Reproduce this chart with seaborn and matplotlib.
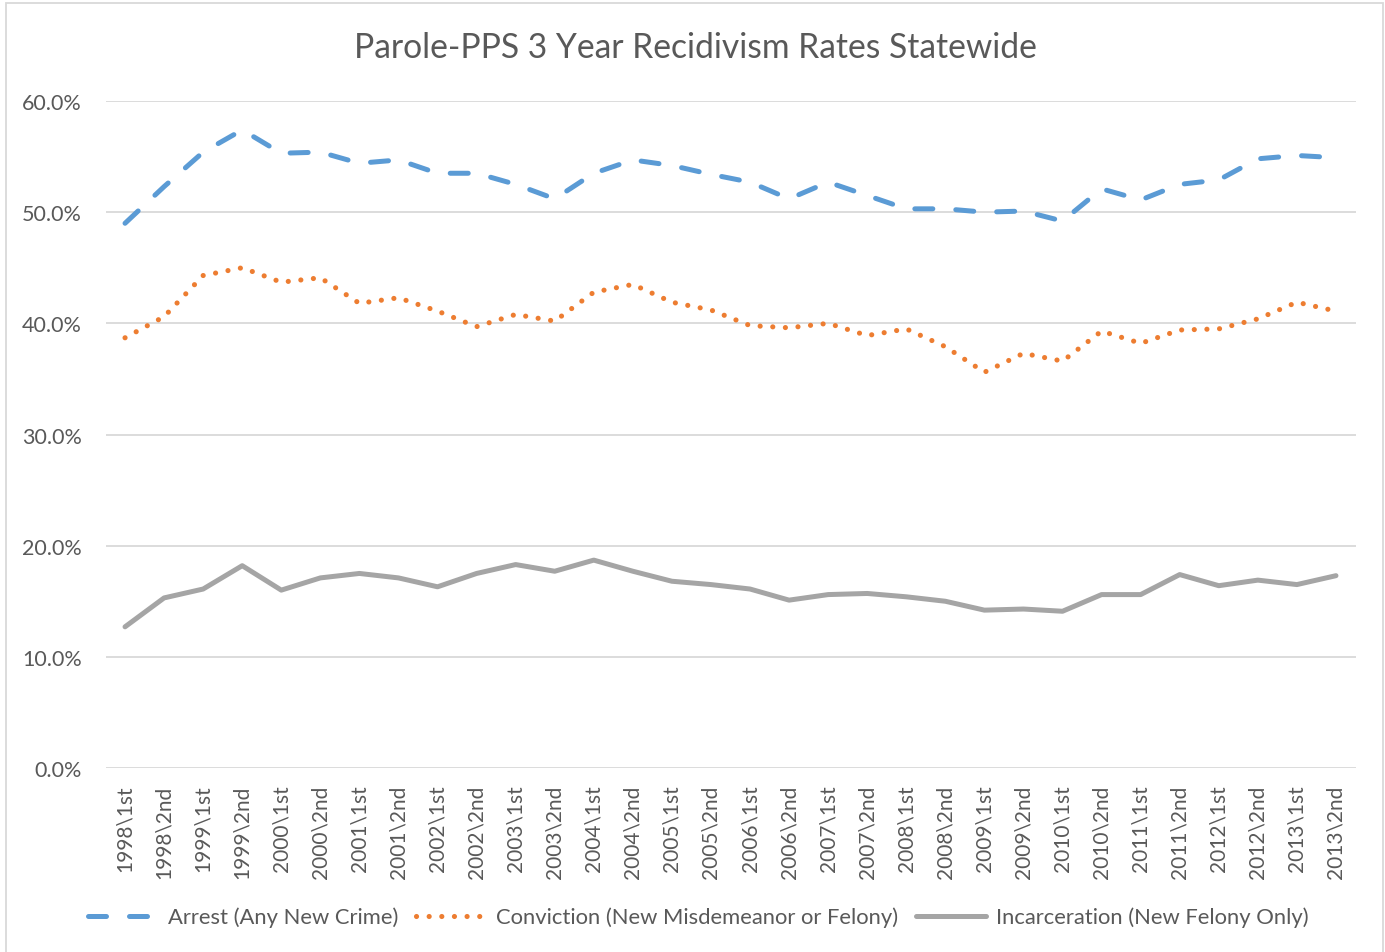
import pandas as pd
import numpy as np
import matplotlib
matplotlib.use('Agg')
import matplotlib.pyplot as plt
import seaborn as sns
from matplotlib.patches import Rectangle
from matplotlib.ticker import PercentFormatter

periods = ['1998\\1st', '1998\\2nd', '1999\\1st', '1999\\2nd', '2000\\1st', '2000\\2nd',
           '2001\\1st', '2001\\2nd', '2002\\1st', '2002\\2nd', '2003\\1st', '2003\\2nd',
           '2004\\1st', '2004\\2nd', '2005\\1st', '2005\\2nd', '2006\\1st', '2006\\2nd',
           '2007\\1st', '2007\\2nd', '2008\\1st', '2008\\2nd', '2009\\1st', '2009\\2nd',
           '2010\\1st', '2010\\2nd', '2011\\1st', '2011\\2nd', '2012\\1st', '2012\\2nd',
           '2013\\1st', '2013\\2nd']

arrest = [49.0, 52.3, 55.4, 57.4, 55.3, 55.4, 54.4, 54.7, 53.5, 53.5, 52.5, 51.2,
          53.5, 54.7, 54.2, 53.4, 52.7, 51.2, 52.7, 51.5, 50.3, 50.3, 50.0, 50.1,
          49.2, 52.1, 51.1, 52.5, 52.9, 54.8, 55.1, 54.9]

conviction = [38.7, 40.6, 44.3, 45.0, 43.7, 44.1, 41.8, 42.3, 41.1, 39.7, 40.8, 40.2,
              42.8, 43.5, 41.9, 41.2, 39.8, 39.6, 40.0, 38.9, 39.5, 37.9, 35.6, 37.3,
              36.6, 39.3, 38.2, 39.4, 39.5, 40.4, 41.9, 41.1]

incarceration = [12.7, 15.3, 16.1, 18.2, 16.0, 17.1, 17.5, 17.1, 16.3, 17.5, 18.3, 17.7,
                 18.7, 17.7, 16.8, 16.5, 16.1, 15.1, 15.6, 15.7, 15.4, 15.0, 14.2, 14.3,
                 14.1, 15.6, 15.6, 17.4, 16.4, 16.9, 16.5, 17.3]

series_names = ['Arrest (Any New Crime)',
                'Conviction (New Misdemeanor or Felony)',
                'Incarceration (New Felony Only)']

# Собираем длинную таблицу для seaborn
df = pd.DataFrame({'period': periods, series_names[0]: arrest,
                   series_names[1]: conviction, series_names[2]: incarceration})
long_df = df.melt(id_vars='period', var_name='series', value_name='rate')
long_df['x'] = long_df['period'].map({p: i for i, p in enumerate(periods)})

sns.set_style('white')
plt.rcParams['font.family'] = ['Lato', 'DejaVu Sans']
text_color = '#595959'

fig = plt.figure(figsize=(13.85, 9.53), dpi=100)
ax = fig.add_axes([105.5 / 1385, 184 / 953, 1250 / 1385, 667 / 953])

palette = {series_names[0]: '#5B9BD5', series_names[1]: '#ED7D31', series_names[2]: '#A5A5A5'}
dashes = {series_names[0]: (3.6, 4.6), series_names[1]: (0.01, 2.45), series_names[2]: ''}

sns.lineplot(data=long_df, x='x', y='rate', hue='series', style='series',
             palette=palette, dashes=dashes, hue_order=series_names, style_order=series_names,
             linewidth=3.6, legend=False, ax=ax)

for line in ax.lines:
    line.set_dash_capstyle('round')
    line.set_solid_capstyle('round')
    line.set_solid_joinstyle('round')
ax.lines[1].set_linewidth(3.7)

# Оси и сетка в стиле Excel
ax.set_xlim(-0.5, len(periods) - 0.5)
ax.set_ylim(0, 60)
ax.set_yticks(np.arange(0, 61, 10))
ax.yaxis.set_major_formatter(PercentFormatter(decimals=1))
ax.set_xticks(range(len(periods)))
ax.set_xticklabels(periods, rotation=90)
ax.grid(axis='y', color='#D9D9D9', linewidth=1.3)
ax.set_axisbelow(True)
for side in ['top', 'right', 'left', 'bottom']:
    ax.spines[side].set_visible(False)
ax.tick_params(axis='y', length=0, pad=17, labelsize=15.5, labelcolor=text_color)
ax.tick_params(axis='x', length=0, pad=12, labelsize=15, labelcolor=text_color)
ax.set_xlabel('')
ax.set_ylabel('')

fig.text(695.5 / 1385, 1 - 48 / 953, 'Parole-PPS 3 Year Recidivism Rates Statewide',
         ha='center', va='center', fontsize=24.2, color=text_color)

leg = fig.legend(handles=ax.lines[:3], labels=series_names, loc='center',
                 bbox_to_anchor=(698 / 1385, 1 - 918 / 953), ncol=3, frameon=False,
                 fontsize=15.8, handlelength=3.2, handletextpad=0.45, columnspacing=0.8,
                 labelcolor=text_color)

# Рамка вокруг диаграммы
fig.patches.append(Rectangle((6 / 1385, -0.01), 1377 / 1385, 1 - 4 / 953 + 0.01,
                             transform=fig.transFigure, fill=False,
                             edgecolor='#D9D9D9', linewidth=1.3))

fig.savefig('out.png', dpi=100)
